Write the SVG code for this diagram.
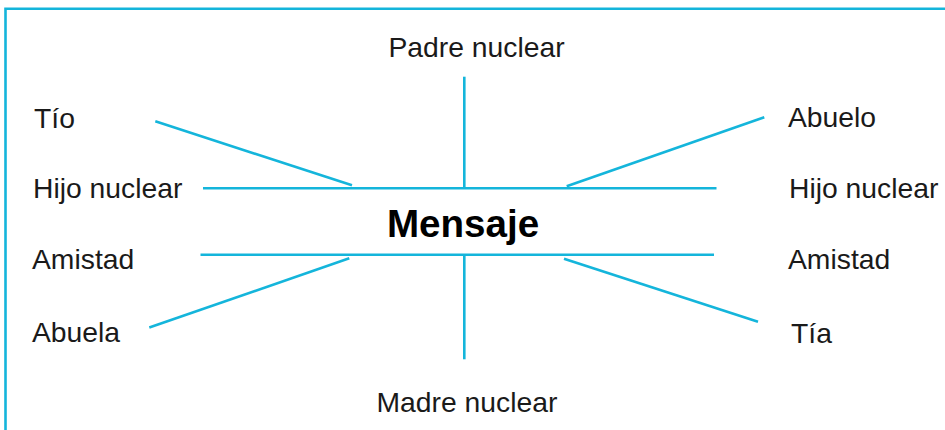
<svg xmlns="http://www.w3.org/2000/svg" width="945" height="430" viewBox="0 0 945 430">
<style>
.ln{stroke:#14B5DB;stroke-width:2.6;fill:none;stroke-linecap:butt}
.lb{font-family:"Liberation Sans",Arial,sans-serif;font-size:28.3px;fill:#1a1a1a}
.ms{font-family:"Liberation Sans",Arial,sans-serif;font-size:38.6px;font-weight:bold;fill:#000}
</style>
<rect width="945" height="430" fill="#fff"/>
<g id="frame">
<path class="ln" d="M5.5,430 V8.7 H945" stroke-width="3"/>
</g>
<g id="connectors">
<line class="ln" x1="203" y1="188.3" x2="716.5" y2="188.3"/>
<line class="ln" x1="200.5" y1="254.7" x2="714" y2="254.7"/>
<line class="ln" x1="464.3" y1="76.7" x2="464.3" y2="188"/>
<line class="ln" x1="464.3" y1="255" x2="464.3" y2="359.3"/>
<line class="ln" x1="155.3" y1="121.3" x2="352" y2="185.3"/>
<line class="ln" x1="566.7" y1="186.3" x2="764.3" y2="117.3"/>
<line class="ln" x1="149.3" y1="327.5" x2="349.3" y2="258.3"/>
<line class="ln" x1="564" y1="258.7" x2="758" y2="321.7"/>
</g>
<g id="mensaje"><text class="ms" x="463" y="237.3" text-anchor="middle">Mensaje</text></g>
<g id="padre"><text class="lb" x="476.5" y="57" text-anchor="middle">Padre nuclear</text></g>
<g id="madre"><text class="lb" x="467" y="412" text-anchor="middle">Madre nuclear</text></g>
<g id="tio"><text class="lb" x="34" y="127.7">Tío</text></g>
<g id="hijo-izq"><text class="lb" x="33" y="198.3">Hijo nuclear</text></g>
<g id="amistad-izq"><text class="lb" x="32" y="269.3">Amistad</text></g>
<g id="abuela"><text class="lb" x="32" y="341.7">Abuela</text></g>
<g id="abuelo"><text class="lb" x="788" y="126.7">Abuelo</text></g>
<g id="hijo-der"><text class="lb" x="789" y="198.3">Hijo nuclear</text></g>
<g id="amistad-der"><text class="lb" x="788" y="269.3">Amistad</text></g>
<g id="tia"><text class="lb" x="791" y="343.3">Tía</text></g>
</svg>
